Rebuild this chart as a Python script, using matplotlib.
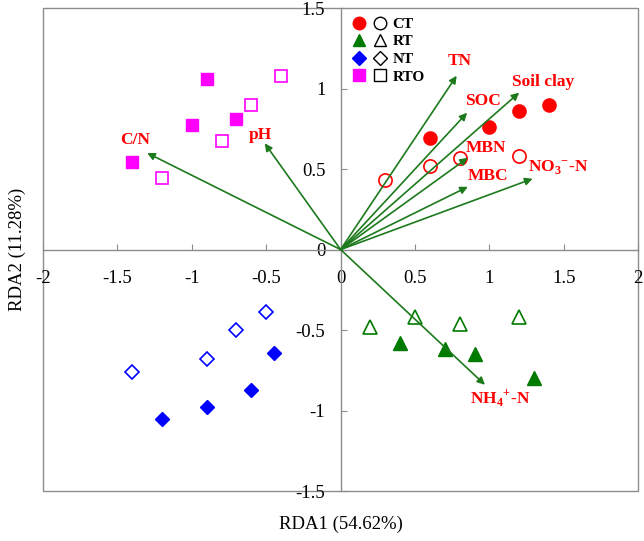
import numpy as np
import matplotlib.pyplot as plt
from matplotlib.lines import Line2D
from matplotlib.legend_handler import HandlerTuple
from matplotlib.patches import Rectangle

plt.rcParams['font.family'] = ['Liberation Serif', 'DejaVu Serif']
plt.rcParams['mathtext.fontset'] = 'custom'
plt.rcParams['mathtext.rm'] = 'Liberation Serif'
plt.rcParams['mathtext.bf'] = 'Liberation Serif:bold'

# sample scores (filled = one sampling, open = the other)
ct_fill_x = [0.6, 1.0, 1.2, 1.4]
ct_fill_y = [0.69, 0.76, 0.86, 0.90]
ct_open_x = [0.3, 0.6, 0.8, 1.2]
ct_open_y = [0.43, 0.52, 0.57, 0.58]

rt_fill_x = [0.4, 0.7, 0.9, 1.3]
rt_fill_y = [-0.58, -0.62, -0.65, -0.80]
rt_open_x = [0.2, 0.5, 0.8, 1.2]
rt_open_y = [-0.48, -0.42, -0.46, -0.42]

nt_fill_x = [-0.45, -0.6, -0.9, -1.2]
nt_fill_y = [-0.64, -0.875, -0.98, -1.05]
nt_open_x = [-0.5, -0.7, -0.9, -1.4]
nt_open_y = [-0.39, -0.50, -0.68, -0.76]

rto_fill_x = [-0.9, -1.0, -0.7, -1.4]
rto_fill_y = [1.06, 0.775, 0.81, 0.545]
rto_open_x = [-0.4, -0.6, -0.8, -1.2]
rto_open_y = [1.08, 0.90, 0.675, 0.445]

# environmental vectors
env_names = ['TN', 'SOC', 'Soil clay', 'MBN', 'MBC',
             r'NO$_\mathbf{3}$$^\mathbf{-}$-N', r'NH$_\mathbf{4}$$^\mathbf{+}$-N', 'C/N', 'pH']
env_x = [0.78, 0.85, 1.20, 0.855, 0.855, 1.29, 0.97, -1.30, -0.51]
env_y = [1.08, 0.85, 0.975, 0.57, 0.39, 0.44, -0.84, 0.60, 0.66]
lab_x = [0.80, 0.96, 1.36, 0.98, 0.99, 1.46, 1.07, -1.38, -0.54]
lab_y = [1.17, 0.92, 1.04, 0.63, 0.46, 0.51, -0.92, 0.68, 0.71]

xticks = [-2, -1.5, -1, -0.5, 0, 0.5, 1, 1.5, 2]
yticks = [-1.5, -1, -0.5, 0, 0.5, 1, 1.5]

red = '#FF0000'
green = '#007A00'
blue = '#0000FF'
mag = '#FF00FF'
arrow_c = '#1C7A1C'
grey = '#8C8C8C'

fig = plt.figure(figsize=(6.44, 5.41), dpi=100)
ax = fig.add_axes([0.0668, 0.0924, 0.9242, 0.8926])

ms = 9.5
ax.plot(ct_fill_x, ct_fill_y, 'o', ms=ms, color=red, ls='none', zorder=3)
ax.plot(ct_open_x, ct_open_y, 'o', ms=ms, mfc='white', mec=red, mew=1.2, ls='none', zorder=3)
ax.plot(rt_fill_x, rt_fill_y, '^', ms=ms, color=green, ls='none', zorder=3)
ax.plot(rt_open_x, rt_open_y, '^', ms=ms, mfc='white', mec=green, mew=1.2, ls='none', zorder=3)
ax.plot(nt_fill_x, nt_fill_y, 'D', ms=ms * 0.8, color=blue, ls='none', zorder=3)
ax.plot(nt_open_x, nt_open_y, 'D', ms=ms * 0.8, mfc='white', mec=blue, mew=1.2, ls='none', zorder=3)
ax.plot(rto_fill_x, rto_fill_y, 's', ms=ms * 0.95, color=mag, ls='none', zorder=3)
ax.plot(rto_open_x, rto_open_y, 's', ms=ms * 0.95, mfc='white', mec=mag, mew=1.2, ls='none', zorder=3)

for ex, ey, lx, ly, name in zip(env_x, env_y, lab_x, lab_y, env_names):
    ax.annotate('', xy=(ex, ey), xytext=(0, 0),
                arrowprops=dict(arrowstyle='-|>', color=arrow_c, lw=1.2,
                                mutation_scale=11, shrinkA=0, shrinkB=0), zorder=4)
    ax.text(lx, ly, name, color=red, fontsize=12.5, fontweight='bold',
            ha='center', va='center', zorder=5)

ax.set_xlim(-2, 2)
ax.set_ylim(-1.5, 1.5)

# axes through the origin, grey outer frame
ax.spines['left'].set_position(('data', 0))
ax.spines['bottom'].set_position(('data', 0))
for s in ['top', 'right']:
    ax.spines[s].set_visible(False)
for s in ['left', 'bottom']:
    ax.spines[s].set_color(grey)
    ax.spines[s].set_linewidth(1.0)
ax.add_patch(Rectangle((0, 0), 1, 1, transform=ax.transAxes, fill=False,
                       ec=grey, lw=1.0, clip_on=False, zorder=1))

ax.set_xticks(xticks)
ax.set_yticks(yticks)
ax.set_xticklabels([f'{v:g}' for v in xticks])
ax.set_yticklabels([f'{v:g}' for v in yticks])
ax.tick_params(axis='x', direction='in', length=4, color=grey, pad=15, labelsize=13.5)
ax.tick_params(axis='y', direction='in', length=4, color=grey, pad=11, labelsize=13.5)

ax.set_xlabel('RDA1 (54.62%)', fontsize=13.5)
ax.set_ylabel('RDA2 (11.28%)', fontsize=13.5)
ax.xaxis.set_label_coords(0.5, -0.052)
ax.yaxis.set_label_coords(-0.029, 0.5)

# legend: filled + open marker pairs
def pair(marker, c, size):
    f = Line2D([], [], marker=marker, ls='none', ms=size, color=c)
    o = Line2D([], [], marker=marker, ls='none', ms=size, mfc='white', mec='black', mew=1.0)
    return (f, o)

handles = [pair('o', red, 9), pair('^', green, 9), pair('D', blue, 7), pair('s', mag, 8.5)]
labels = ['CT', 'RT', 'NT', 'RTO']
leg = ax.legend(handles, labels, handler_map={tuple: HandlerTuple(ndivide=None, pad=0.6)},
                loc='upper left', bbox_to_anchor=(0.505, 1.0), frameon=False,
                prop={'weight': 'bold', 'size': 11}, handlelength=2.2,
                handletextpad=0.4, labelspacing=0.25, borderaxespad=0.2)

fig.savefig('out.png', dpi=100)
